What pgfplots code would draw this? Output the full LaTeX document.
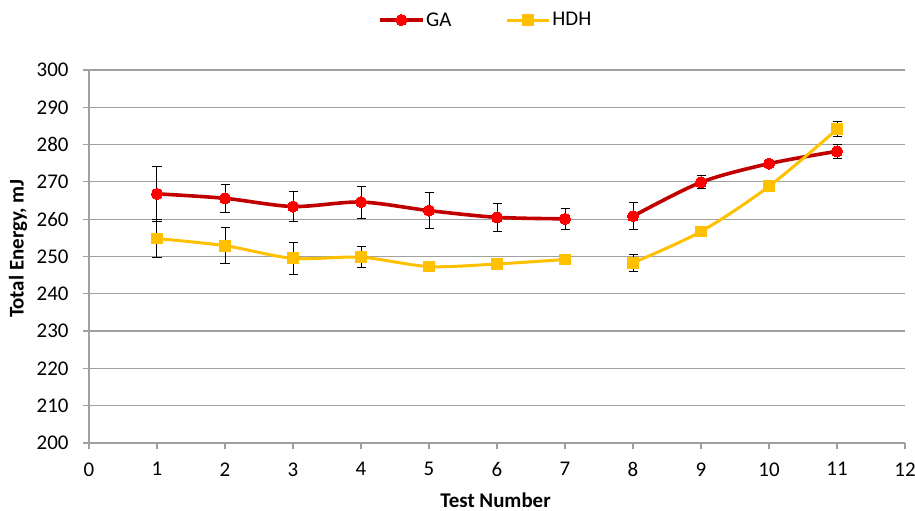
\documentclass[border=0pt]{standalone}
\usepackage{pgfplots}
\pgfplotsset{compat=1.18}
\usepackage{fontspec}
\setmainfont{Carlito}
\definecolor{gaLine}{HTML}{C00000}
\definecolor{gaMark}{HTML}{FF0000}
\definecolor{hdh}{HTML}{FFC000}
\definecolor{gridgray}{HTML}{A0A0A0}
\begin{document}
\begin{tikzpicture}
\useasboundingbox (-89bp,-68bp) rectangle (826bp,443bp);
\begin{axis}[
  scale only axis,
  width=816bp, height=373bp,
  xmin=0, xmax=12, ymin=200, ymax=300,
  xtick={0,...,12}, ytick={200,210,...,300},
  axis x line*=bottom, axis y line*=left,
  axis line style={gridgray, line width=1.2bp},
  ymajorgrids, major grid style={gridgray, line width=1.2bp},
  tick style={gridgray, line width=1.2bp},
  tick align=outside, major tick length=6bp,
  font=\fontsize{21}{25}\selectfont,
  /pgf/number format/assume math mode=true,
  /pgf/number format/1000 sep={},
  xticklabel style={yshift=-10bp},
  yticklabel style={xshift=-11bp},
  xlabel={\bfseries Test Number},
  ylabel={\bfseries Total Energy, mJ},
  every axis x label/.style={at={(rel axis cs:0.5,0)}, anchor=center, xshift=-1.5bp, yshift=-57bp},
  every axis y label/.style={at={(rel axis cs:0,0.5)}, anchor=center, xshift=-71bp, yshift=8bp, rotate=90},
  legend columns=2,
  legend style={draw=none, fill=none, at={(rel axis cs:0.4865,1.134)}, anchor=center,
    /tikz/every even column/.append style={column sep=52bp}},
  legend image code/.code={\draw[mark repeat=2,mark phase=2] plot coordinates {(0bp,0bp) (21bp,0bp) (42bp,0bp)};},
  error bars/y dir=both, error bars/y explicit,
  error bars/error bar style={black, line width=1bp},
  error bars/error mark options={rotate=90, mark size=4.5bp, black, line width=1bp},
]
% GA tests 1-7
\addplot[gaLine, line width=3.6bp, smooth, mark=*, mark size=5.6bp,
  mark options={fill=gaMark, draw=gaMark, line width=0pt}]
  coordinates {
  (1,266.8) +- (0,7.4)
  (2,265.6) +- (0,3.7)
  (3,263.4) +- (0,4.1)
  (4,264.6) +- (0,4.3)
  (5,262.3) +- (0,4.8)
  (6,260.5) +- (0,3.8)
  (7,260.1) +- (0,2.9)
  };
\addlegendentry{GA}
% HDH tests 1-7
\addplot[hdh, line width=3.0bp, smooth, mark=square*, mark size=5.4bp,
  mark options={fill=hdh, draw=hdh, line width=0pt}]
  coordinates {
  (1,254.8) +- (0,5.1)
  (2,252.9) +- (0,4.9)
  (3,249.5) +- (0,4.3)
  (4,249.8) +- (0,2.8)
  (5,247.3) +- (0,0.5)
  (6,248.0) +- (0,0.6)
  (7,249.2) +- (0,1.3)
  };
\addlegendentry{HDH}
% GA tests 8-11
\addplot[gaLine, line width=3.6bp, smooth, mark=*, mark size=5.6bp,
  mark options={fill=gaMark, draw=gaMark, line width=0pt}, forget plot]
  coordinates {
  (8,260.8) +- (0,3.6)
  (9,269.9) +- (0,1.8)
  (10,274.9) +- (0,0.5)
  (11,278.2) +- (0,1.8)
  };
% HDH tests 8-11
\addplot[hdh, line width=3.0bp, smooth, mark=square*, mark size=5.4bp,
  mark options={fill=hdh, draw=hdh, line width=0pt}, forget plot]
  coordinates {
  (8,248.3) +- (0,2.2)
  (9,256.7) +- (0,0.5)
  (10,268.8) +- (0,0.5)
  (11,284.1) +- (0,2.0)
  };
\end{axis}
\end{tikzpicture}
\end{document}
